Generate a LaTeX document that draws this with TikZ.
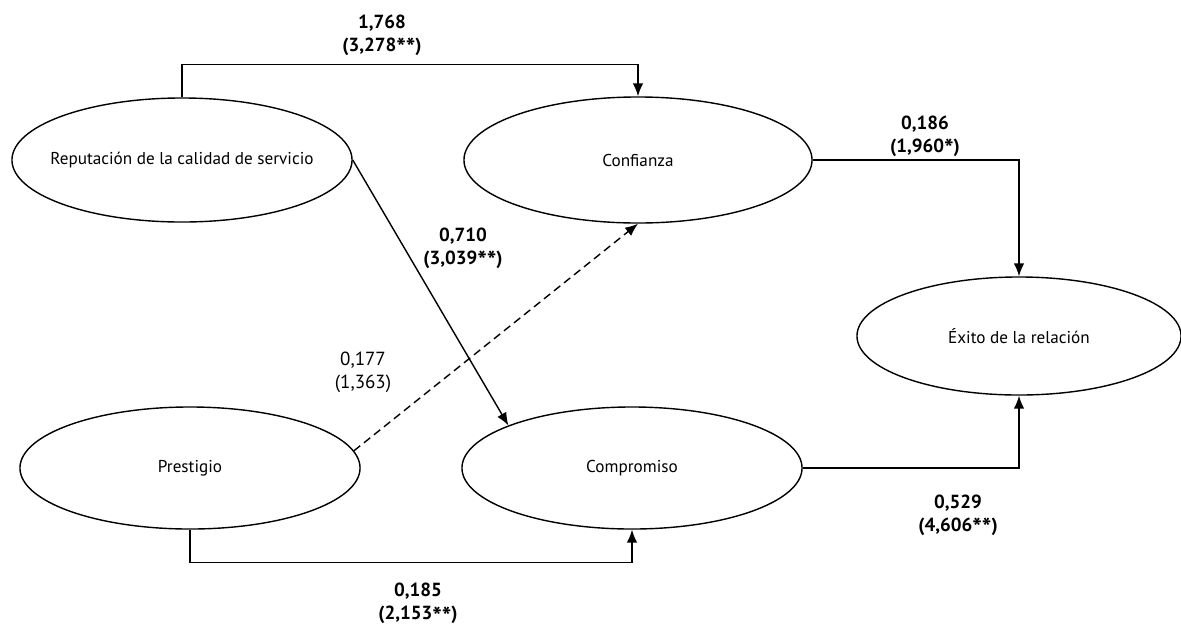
\documentclass[tikz,border=0pt]{standalone}
\usepackage{fontspec}
\setmainfont{PT Sans}
\usetikzlibrary{arrows.meta,shapes.geometric}
\newcommand{\sig}{\raisebox{-0.55ex}{\fontsize{18}{18}\selectfont*}}

\begin{document}
\begin{tikzpicture}[x=0.025cm, y=-0.025cm,
  construct/.style={draw, ellipse, line width=1pt, inner sep=0pt, font=\fontsize{12.2}{14}\selectfont},
  coef/.style={align=center, font=\fontsize{13.5}{16.5}\selectfont\bfseries, inner sep=1pt},
  ns/.style={coef, font=\fontsize{13.5}{16.5}\selectfont},
  arr/.style={-{Latex[length=3.2mm, width=2.6mm]}, line width=1pt}]
  \useasboundingbox (0,0) rectangle (1181,632);

  \node[construct, minimum width=8.5cm, minimum height=3.1cm] (rep) at (182,160) {\makebox[0pt]{Reputación\ de la calidad\ de servicio}};
  \node[construct, minimum width=8.7cm, minimum height=3.15cm] (conf) at (638,160) {\makebox[0pt]{Confianza}};
  \node[construct, minimum width=8.1cm, minimum height=2.95cm] (exito) at (1019,336) {\makebox[0pt]{Éxito de la relación}};
  \node[construct, minimum width=8.5cm, minimum height=3.05cm] (prest) at (190,468) {\makebox[0pt]{Prestigio}};
  \node[construct, minimum width=8.5cm, minimum height=3.05cm] (comp) at (632,468) {\makebox[0pt]{Compromiso}};

  % relaciones
  \draw[arr] (rep.east) -- (comp.161);
  \draw[arr] (rep.north) -- ++(0,-33) -| (conf.north);
  \draw[arr] (conf.east) -| (exito.north);
  \draw[arr] (comp.east) -| (exito.south);
  \draw[arr] (prest.south) -- ++(0,33) -| (comp.south);
  \draw[arr, dash pattern=on 2mm off 1.2mm] (prest.6) -- (conf.south);

  % coeficientes (t)
  \node[coef] (c-rep-conf) at (382,36) {1,768\\(3,278\sig\sig)};
  \node[coef] (c-conf-exito) at (925,137) {0,186\\(1,960\sig)};
  \node[coef] (c-rep-comp) at (463,249) {0,710\\(3,039\sig\sig)};
  \node[ns] (c-prest-conf) at (363,372) {0,177\\(1,363)};
  \node[coef] (c-comp-exito) at (958,516) {0,529\\(4,606\sig\sig)};
  \node[coef] (c-prest-comp) at (418,604) {0,185\\(2,153\sig\sig)};
\end{tikzpicture}
\end{document}
